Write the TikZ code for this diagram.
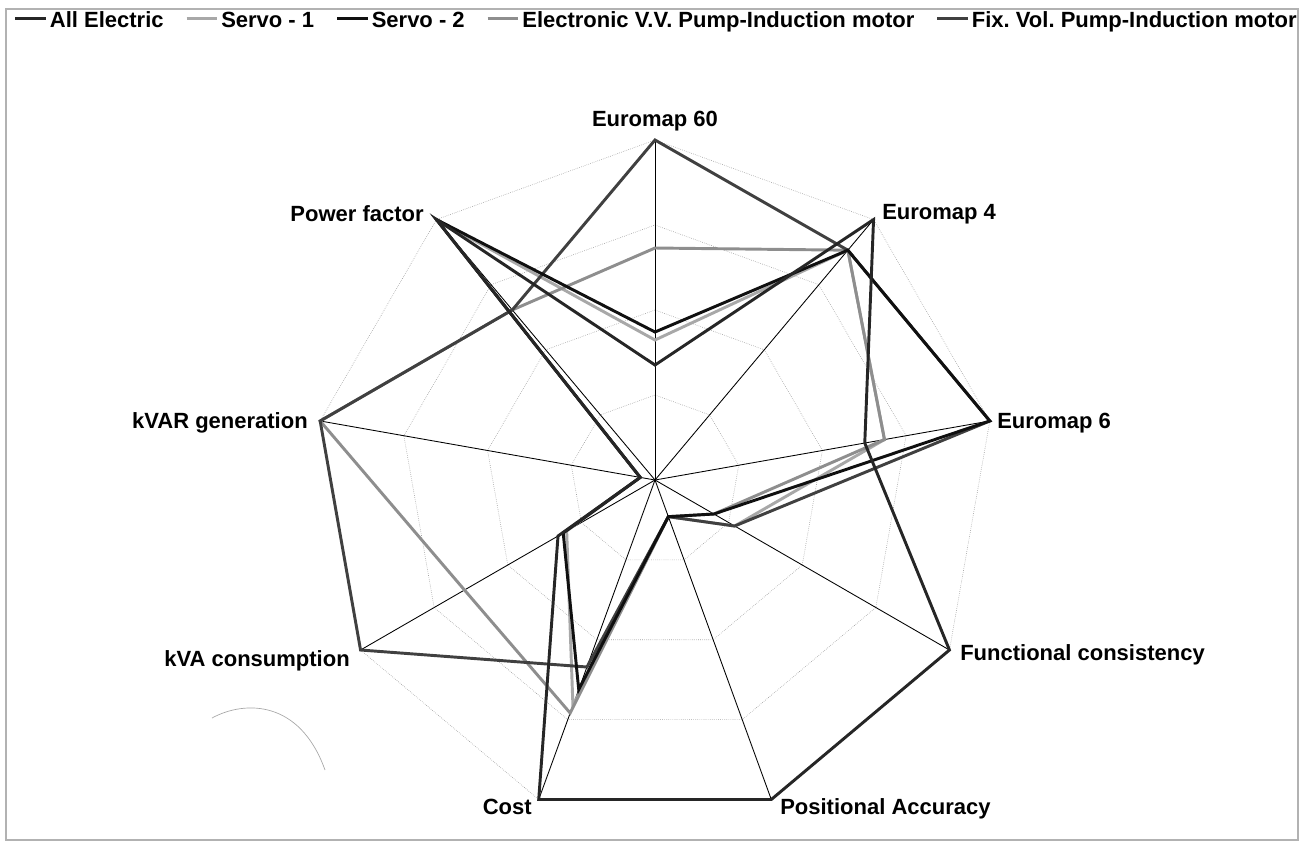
\documentclass[tikz,border=0pt]{standalone}
\usepackage{fontspec}
\setmainfont{Liberation Sans}
\usetikzlibrary{calc}
\definecolor{cAE}{HTML}{262626}
\definecolor{cSa}{HTML}{A8A8A8}
\definecolor{cSb}{HTML}{101010}
\definecolor{cEV}{HTML}{8E8E8E}
\definecolor{cFV}{HTML}{404040}
\newcommand\legdash[1]{{\color{#1}\rule[0.30em]{23pt}{2.2pt}}\hspace{3pt}}
\frenchspacing
\begin{document}
\begin{tikzpicture}[x=0.75pt,y=-0.75pt,
  lbl/.style={font=\bfseries\fontsize{16.5}{18}\selectfont, inner sep=0pt},
  ser/.style={line width=2.2pt, line join=miter},
  gridline/.style={draw=gray!80, line width=0.45pt, densely dotted},
  spoke/.style={draw=black, line width=0.65pt}]
\useasboundingbox (0,0) rectangle (1305,847);
\draw[gray!60, line width=0.8pt] (6,9) rectangle (1298,840);

% legend
\node[lbl, anchor=base west] (leg) at (15,27) {\hbox to 961pt{\legdash{cAE}All Electric\hfill
  \legdash{cSa}Servo - 1\hfill
  \legdash{cSb}Servo - 2\hfill
  \legdash{cEV}Electronic V.V. Pump-Induction motor\hfill
  \legdash{cFV}Fix. Vol. Pump-Induction motor}};

% axis labels
\node[lbl, anchor=base] (l0) at (655,126) {Euromap 60};
\node[lbl, anchor=base west] (l1) at (882,219) {Euromap 4};
\node[lbl, anchor=base west] (l2) at (997,428) {Euromap 6};
\node[lbl, anchor=base west] (l3) at (960,660) {Functional consistency};
\node[lbl, anchor=base west] (l4) at (780,814) {Positional Accuracy};
\node[lbl, anchor=base east] (l5) at (532,814) {Cost};
\node[lbl, anchor=base east] (l6) at (350,666) {kVA consumption};
\node[lbl, anchor=base east] (l7) at (308,428) {kVAR generation};
\node[lbl, anchor=base east] (l8) at (424,221) {Power factor};

% stray arc
\draw[gray!70, line width=0.5pt] (212,718) .. controls (245,700) and (300,700) .. (325,770);

\begin{scope}[shift={(655,480)}, y=0.75pt]
  \coordinate (O) at (0,0);
  \foreach \i in {0,...,8} { \coordinate (A\i) at ({90-40*\i}:340); }
  \foreach \r in {85,170,255,340}
    \draw[gridline] (90:\r) \foreach \k in {1,...,8} { -- ({90-40*\k}:\r) } -- cycle;
  \foreach \i in {0,...,8} \draw[spoke] (O) -- (A\i);

  \foreach \v [count=\k from 0] in {140,300,233,92,39,240,102,15,340}
    \coordinate (P\k) at ({90-40*\k}:\v);
  \draw[ser, cSa] (P0) -- (P1) -- (P2) -- (P3) -- (P4) -- (P5) -- (P6) -- (P7) -- (P8) -- cycle;

  \foreach \v [count=\k from 0] in {232,300,233,68,39,248,220,340,222}
    \coordinate (Q\k) at ({90-40*\k}:\v);
  \draw[ser, cEV] (Q0) -- (Q1) -- (Q2) -- (Q3) -- (Q4) -- (Q5) -- (Q6) -- (Q7) -- (Q8) -- cycle;

  \foreach \v [count=\k from 0] in {340,300,340,92,39,199,340,340,222}
    \coordinate (F\k) at ({90-40*\k}:\v);
  \draw[ser, cFV] (F0) -- (F1) -- (F2) -- (F3) -- (F4) -- (F5) -- (F6) -- (F7) -- (F8) -- cycle;

  \foreach \v [count=\k from 0] in {148,300,340,68,39,223,106,15,340}
    \coordinate (B\k) at ({90-40*\k}:\v);
  \draw[ser, cSb] (B0) -- (B1) -- (B2) -- (B3) -- (B4) -- (B5) -- (B6) -- (B7) -- (B8) -- cycle;

  \foreach \v [count=\k from 0] in {115,340,213,340,340,340,112,15,340}
    \coordinate (D\k) at ({90-40*\k}:\v);
  \draw[ser, cAE] (D0) -- (D1) -- (D2) -- (D3) -- (D4) -- (D5) -- (D6) -- (D7) -- (D8) -- cycle;
\end{scope}
\end{tikzpicture}
\end{document}
